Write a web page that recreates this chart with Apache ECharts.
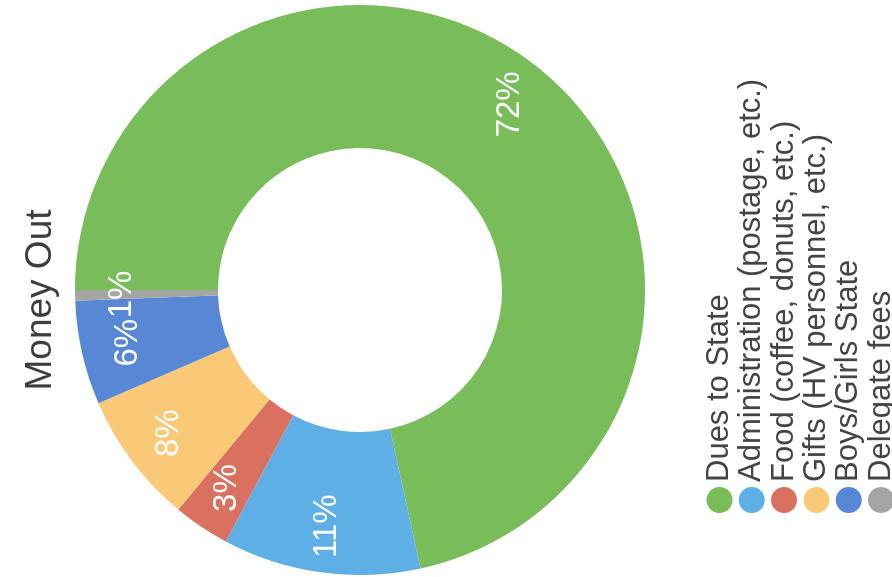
<!DOCTYPE html>
<html>
<head lang="en">
    <meta charset="UTF-8">
    <title>Money Out</title>
    <script src="https://cdn.jsdelivr.net/npm/echarts@6/dist/echarts.min.js"></script>
    <style>
        body { margin: 0; background: #fff; overflow: hidden; }
        #wrap { position: relative; width: 892px; height: 577px; overflow: hidden; }
        /* the scan is turned on its side, so the chart is drawn upright and then turned */
        #container { position: absolute; left: 0; top: 0; width: 577px; height: 930px;
                     transform-origin: 0 0; transform: translate(0, 577px) rotate(-90deg); }
    </style>
</head>
<body>
<div id="wrap"><div id="container"></div></div>
<script>
    var categories = ['Dues to State', 'Administration (postage, etc.)', 'Food (coffee, donuts, etc.)',
        'Gifts (HV personnel, etc.)', 'Boys/Girls State', 'Delegate fees'];
    var shares = [71.6, 11.2, 3.2, 7.5, 5.9, 0.6];   // percent of money out
    var colors = ['#78bd5a', '#5eafe6', '#da7060', '#fac978', '#5887d6', '#a5a5a1'];
    var titleText = 'Money Out';

    var font = 'Helvetica, Arial, "Liberation Sans", sans-serif';
    var dom = document.getElementById('container');
    var myChart = echarts.init(dom, null, {renderer: 'canvas'});

    var pieData = categories.map(function (name, i) {
        return {name: name, value: shares[i], itemStyle: {color: colors[i]}};
    });

    var option = {
        backgroundColor: '#fff',
        animation: false,
        color: colors,
        graphic: [{
            type: 'text',
            x: 277,
            y: 22,
            style: {
                text: titleText,
                fill: '#3d3d3d',
                font: '37px ' + font,
                textAlign: 'center',
                textVerticalAlign: 'top'
            }
        }],
        legend: {
            orient: 'vertical',
            left: 64,
            top: 704,
            padding: 0,
            icon: 'circle',
            itemWidth: 26,
            itemHeight: 26,
            itemGap: 1.3,
            selectedMode: false,
            data: categories,
            textStyle: {fontSize: 31, lineHeight: 30, color: '#444', fontFamily: font}
        },
        series: [
            {
                name: titleText,
                type: 'pie',
                center: [287, 360],
                radius: [142, 285],
                startAngle: 90,
                clockwise: true,
                silent: true,
                label: {show: false},
                labelLine: {show: false},
                itemStyle: {borderWidth: 0},
                data: pieData
            },
            {
                // same slices, only used to place the percent labels a bit further out
                name: 'labels',
                type: 'pie',
                center: [287, 360],
                radius: [186, 285],
                startAngle: 90,
                clockwise: true,
                silent: true,
                itemStyle: {color: 'rgba(0,0,0,0)', borderWidth: 0},
                label: {
                    show: true,
                    position: 'inside',
                    color: '#fff',
                    fontSize: 33,
                    fontFamily: font,
                    formatter: function (p) { return Math.round(p.value) + '%'; }
                },
                labelLayout: {hideOverlap: false},
                labelLine: {show: false},
                data: categories.map(function (name, i) {
                    return {name: name, value: shares[i]};
                })
            }
        ]
    };
    myChart.setOption(option);
</script>
</body>
</html>
